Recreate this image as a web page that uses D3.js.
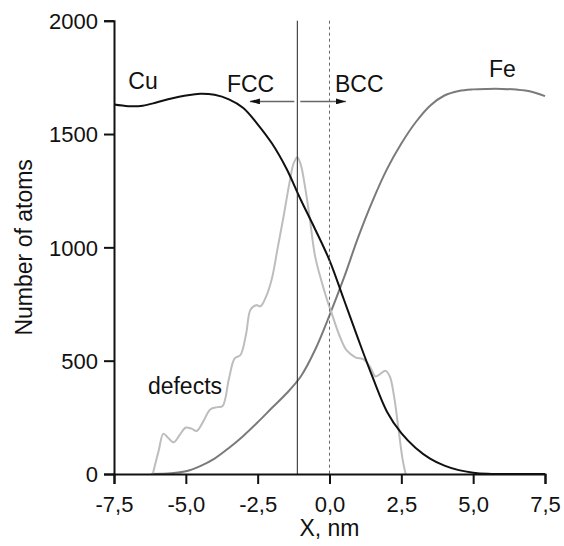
<!DOCTYPE html>
<html>
<head>
<meta charset="utf-8">
<script src="https://cdn.jsdelivr.net/npm/d3@7"></script>
<style>
    body { margin: 0; background: #fff; }
    svg text { font-family: "Liberation Sans", Arial, sans-serif; fill: #111; }
</style>
</head>
<body>
<svg id="chart"></svg>
<script>
// data (x in nm, y in atoms)
var cuX = [-7.5, -7.0, -6.5, -6.0, -5.5, -5.0, -4.5, -4.0, -3.5, -3.0, -2.5, -2.0, -1.5, -1.0, -0.5, 0.0,
           0.5, 1.0, 1.5, 2.0, 2.5, 3.0, 3.5, 4.0, 4.5, 5.0, 5.5, 6.0, 7.5];
var cuY = [1630, 1623, 1625, 1640, 1657, 1670, 1678, 1673, 1653, 1615, 1543, 1458, 1348, 1210, 1080, 943,
           770, 595, 427, 275, 180, 115, 68, 37, 17, 6, 1, 0, 0];

var feX = [-6.2, -5.5, -5.0, -4.5, -4.0, -3.5, -3.0, -2.5, -2.0, -1.5, -1.0, -0.5, 0.0, 0.5, 1.0, 1.5,
           2.0, 2.5, 3.0, 3.5, 4.0, 4.5, 5.0, 5.5, 6.0, 6.5, 7.0, 7.5];
var feY = [0, 3, 12, 35, 68, 115, 168, 228, 292, 355, 430, 548, 700, 865, 1045, 1205,
           1345, 1458, 1552, 1625, 1670, 1690, 1697, 1699, 1699, 1696, 1688, 1667];

var defX = [-6.15, -5.95, -5.78, -5.62, -5.42, -5.2, -5.0, -4.8, -4.62, -4.4, -4.15, -3.9, -3.72, -3.5,
            -3.3, -3.1, -2.9, -2.75, -2.55, -2.4, -2.2, -2.0, -1.8, -1.6, -1.4, -1.25, -1.12, -1.0,
            -0.85, -0.7, -0.5, -0.3, -0.1, 0.1, 0.35, 0.6, 0.9, 1.2, 1.4, 1.6, 1.75, 1.95, 2.1, 2.25,
            2.4, 2.55, 2.65];
var defY = [0, 100, 178, 160, 140, 175, 205, 200, 190, 230, 285, 295, 300, 420,
            510, 525, 620, 725, 745, 740, 785, 865, 1000, 1135, 1280, 1370, 1398, 1365,
            1266, 1140, 960, 860, 775, 700, 610, 545, 515, 505, 475, 430, 440, 455, 430, 340,
            200, 60, 0];

var xTicks = [-7.5, -5.0, -2.5, 0.0, 2.5, 5.0, 7.5];
var yTicks = [0, 500, 1000, 1500, 2000];

// annotations
var fccLine = -1.12;
var bccLine = 0.0;
var arrowY = 1644;
var arrowLeftEnd = -2.77;
var arrowRightEnd = 0.57;

var labels = [
    {text: "Cu", x: -7.0, y: 1700},
    {text: "FCC", x: -3.57, y: 1687},
    {text: "BCC", x: 0.19, y: 1687},
    {text: "Fe", x: 5.55, y: 1752},
    {text: "defects", x: -6.32, y: 355}
];

var W = 564, H = 546;
var margin = {top: 20.7, right: 19, bottom: 72, left: 114};
var width = W - margin.left - margin.right;
var height = H - margin.top - margin.bottom;

var svg = d3.select("#chart").attr("width", W).attr("height", H);
var g = svg.append("g")
    .attr("transform", "translate(" + margin.left + "," + margin.top + ")");

var x = d3.scaleLinear().domain([-7.5, 7.5]).range([0, width]);
var y = d3.scaleLinear().domain([0, 2000]).range([height, 0]);

var loc = d3.formatLocale({decimal: ",", thousands: " ", grouping: [3], currency: ["", ""], minus: "-"});
var fmt = loc.format(".1f");

// curves
function series(xs, ys) {
    return xs.map(function(d, i) { return [d, ys[i]]; });
}
var line = d3.line()
    .x(function(d) { return x(d[0]); })
    .y(function(d) { return y(Math.max(0, d[1])); })
    .curve(d3.curveCatmullRom.alpha(0.5));

g.append("path").datum(series(feX, feY))
    .attr("d", line).attr("fill", "none")
    .attr("stroke", "#7a7a7a").attr("stroke-width", 2);

g.append("path").datum(series(defX, defY))
    .attr("d", line).attr("fill", "none")
    .attr("stroke", "#bdbdbd").attr("stroke-width", 2);

g.append("path").datum(series(cuX, cuY))
    .attr("d", line).attr("fill", "none")
    .attr("stroke", "#111").attr("stroke-width", 2);

// interface lines
g.append("line")
    .attr("x1", x(fccLine)).attr("x2", x(fccLine))
    .attr("y1", y(2000)).attr("y2", y(0))
    .attr("stroke", "#222").attr("stroke-width", 1);

g.append("line")
    .attr("x1", x(bccLine)).attr("x2", x(bccLine))
    .attr("y1", y(2000)).attr("y2", y(0))
    .attr("stroke", "#666").attr("stroke-width", 1)
    .attr("stroke-dasharray", "3,3");

// arrows
var defs = svg.append("defs");
defs.append("marker")
    .attr("id", "head")
    .attr("viewBox", "0 0 10 6")
    .attr("refX", 10).attr("refY", 3)
    .attr("markerWidth", 10).attr("markerHeight", 6)
    .attr("markerUnits", "userSpaceOnUse")
    .attr("orient", "auto")
    .append("path").attr("d", "M0,0L10,3L0,6Z").attr("fill", "#111");

[arrowLeftEnd, arrowRightEnd].forEach(function(end) {
    g.append("line")
        .attr("x1", x(fccLine) + (end < fccLine ? -3 : 3)).attr("x2", x(end))
        .attr("y1", y(arrowY)).attr("y2", y(arrowY))
        .attr("stroke", "#666").attr("stroke-width", 1.5)
        .attr("marker-end", "url(#head)");
});

// axes
var xAxis = g.append("g").attr("transform", "translate(0," + height + ")");
xAxis.call(d3.axisBottom(x).tickValues(d3.range(-7.5, 7.51, 1.25)).tickSize(6).tickFormat(""));
xAxis.call(d3.axisBottom(x).tickValues(xTicks).tickSize(10).tickPadding(8).tickFormat(fmt));

var yAxis = g.append("g");
yAxis.call(d3.axisLeft(y).tickValues(d3.range(0, 2001, 250)).tickSize(6).tickFormat(""));
yAxis.call(d3.axisLeft(y).tickValues(yTicks).tickSize(10).tickPadding(6).tickFormat(d3.format("d")));

g.selectAll(".domain").attr("stroke", "#111").attr("stroke-width", 2);
g.selectAll(".tick line").attr("stroke", "#111").attr("stroke-width", 2);
g.selectAll(".tick text").attr("font-size", 22).attr("fill", "#111")
    .attr("font-family", "Liberation Sans, Arial, sans-serif");
yAxis.selectAll(".tick text").attr("dy", "0.36em");
xAxis.selectAll(".tick text").attr("dy", "0.9em");

// axis titles
svg.append("text")
    .attr("x", margin.left + width / 2).attr("y", 536)
    .attr("text-anchor", "middle").attr("font-size", 23)
    .text("X, nm");

svg.append("text")
    .attr("transform", "translate(32," + (margin.top + height / 2) + ") rotate(-90)")
    .attr("text-anchor", "middle").attr("font-size", 23)
    .text("Number of atoms");

// curve labels
g.selectAll(".lbl").data(labels).enter().append("text")
    .attr("class", "lbl")
    .attr("x", function(d) { return x(d.x); })
    .attr("y", function(d) { return y(d.y); })
    .attr("font-size", 23)
    .text(function(d) { return d.text; });
</script>
</body>
</html>
